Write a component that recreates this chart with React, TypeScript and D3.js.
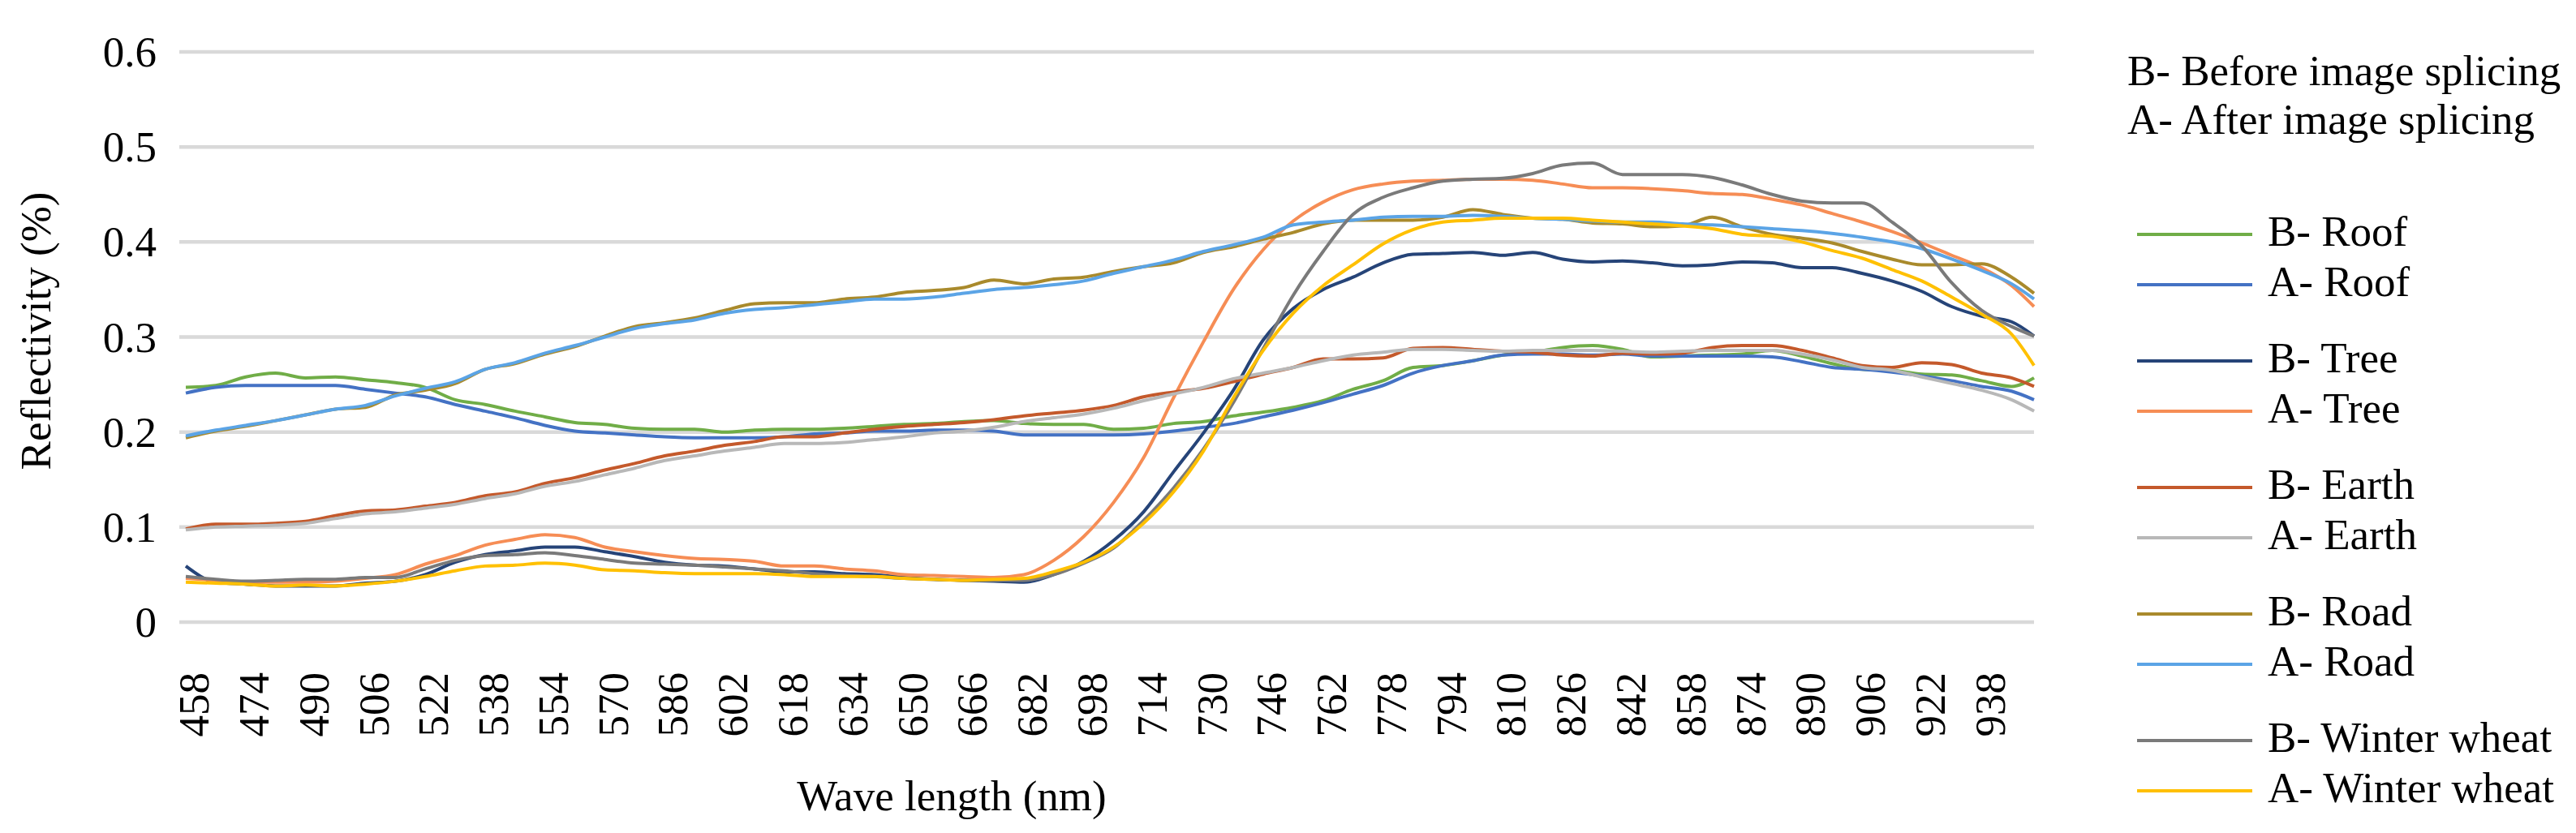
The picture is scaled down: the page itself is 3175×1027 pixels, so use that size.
import React from "react";
import * as d3 from "d3";

// ---------- DATA ----------
const WAVELENGTHS = [
  456, 464, 472, 480, 488, 496, 504, 512, 520, 528, 536, 544, 552, 560, 568, 576, 584, 592, 600, 608, 616,
  624, 632, 640, 648, 656, 664, 672, 680, 688, 696, 704, 712, 720, 728, 736, 744, 752, 760, 768, 776, 784,
  792, 800, 808, 816, 824, 832, 840, 848, 856, 864, 872, 880, 888, 896, 904, 912, 920, 928, 936, 944, 950,
];

const X_TICK_LABELS = [
  458, 474, 490, 506, 522, 538, 554, 570, 586, 602, 618, 634, 650, 666, 682, 698, 714, 730, 746, 762, 778,
  794, 810, 826, 842, 858, 874, 890, 906, 922, 938,
];

const Y_TICKS = [0, 0.1, 0.2, 0.3, 0.4, 0.5, 0.6];

const B_ROOF = [
  0.247, 0.249, 0.258, 0.262, 0.257, 0.258, 0.255, 0.252, 0.247, 0.234, 0.229, 0.222, 0.216, 0.21, 0.208, 0.204, 0.203, 0.203, 0.2, 0.202, 0.203,
  0.203, 0.204, 0.206, 0.208, 0.209, 0.211, 0.212, 0.209, 0.208, 0.208, 0.203, 0.204, 0.209, 0.211, 0.217, 0.221, 0.226, 0.233, 0.245, 0.254, 0.268,
  0.27, 0.275, 0.281, 0.284, 0.289, 0.291, 0.287, 0.279, 0.28, 0.281, 0.282, 0.286, 0.28, 0.272, 0.266, 0.265, 0.261, 0.26, 0.254, 0.248, 0.257,
];
const A_ROOF = [
  0.241, 0.247, 0.249, 0.249, 0.249, 0.249, 0.245, 0.241, 0.237, 0.229, 0.222, 0.215, 0.207, 0.201, 0.199, 0.197, 0.195, 0.194, 0.194, 0.194, 0.195,
  0.198, 0.199, 0.201, 0.201, 0.202, 0.202, 0.201, 0.197, 0.197, 0.197, 0.197, 0.198, 0.201, 0.205, 0.209, 0.216, 0.223, 0.231, 0.24, 0.249, 0.262,
  0.27, 0.275, 0.281, 0.282, 0.282, 0.281, 0.282, 0.28, 0.28, 0.28, 0.28, 0.279, 0.274, 0.268, 0.266, 0.263, 0.259, 0.254, 0.248, 0.243, 0.234,
];
const B_TREE = [
  0.059, 0.042, 0.04, 0.038, 0.038, 0.038, 0.041, 0.043, 0.05, 0.063, 0.071, 0.075, 0.079, 0.079, 0.074, 0.069, 0.063, 0.06, 0.059, 0.056, 0.053,
  0.053, 0.051, 0.05, 0.047, 0.045, 0.044, 0.043, 0.042, 0.05, 0.064, 0.086, 0.116, 0.158, 0.199, 0.244, 0.297, 0.33, 0.35, 0.363, 0.378, 0.387,
  0.388, 0.389, 0.386, 0.389, 0.382, 0.379, 0.38, 0.378, 0.375, 0.376, 0.379, 0.378, 0.373, 0.373, 0.367, 0.359, 0.348, 0.332, 0.322, 0.316, 0.301,
];
const A_TREE = [
  0.046, 0.044, 0.042, 0.042, 0.042, 0.043, 0.046, 0.05, 0.061, 0.07, 0.081, 0.087, 0.092, 0.089, 0.079, 0.074, 0.07, 0.067, 0.066, 0.064, 0.059,
  0.059, 0.056, 0.054, 0.05, 0.049, 0.048, 0.047, 0.05, 0.065, 0.09, 0.126, 0.173, 0.236, 0.295, 0.35, 0.392, 0.422, 0.442, 0.455, 0.461, 0.464,
  0.465, 0.466, 0.466, 0.465, 0.461, 0.457, 0.457, 0.456, 0.454, 0.451, 0.45, 0.445, 0.439, 0.43, 0.421, 0.411, 0.399, 0.386, 0.373, 0.354, 0.332,
];
const B_EARTH = [
  0.098, 0.103, 0.103, 0.104, 0.106, 0.112, 0.117, 0.118, 0.122, 0.126, 0.133, 0.137, 0.146, 0.152, 0.16, 0.167, 0.175, 0.18, 0.186, 0.19, 0.195,
  0.195, 0.199, 0.203, 0.206, 0.208, 0.21, 0.213, 0.217, 0.22, 0.223, 0.228, 0.237, 0.242, 0.246, 0.253, 0.261, 0.268, 0.277, 0.277, 0.278, 0.288,
  0.289, 0.287, 0.285, 0.284, 0.281, 0.28, 0.283, 0.282, 0.283, 0.289, 0.291, 0.291, 0.286, 0.278, 0.27, 0.268, 0.273, 0.271, 0.262, 0.257, 0.248,
];
const A_EARTH = [
  0.097, 0.1, 0.101, 0.102, 0.104, 0.109, 0.114, 0.116, 0.12, 0.124, 0.13, 0.135, 0.143, 0.148, 0.155, 0.162, 0.17, 0.175, 0.18, 0.184, 0.188,
  0.188, 0.189, 0.192, 0.195, 0.199, 0.201, 0.205, 0.211, 0.215, 0.219, 0.225, 0.233, 0.24, 0.247, 0.256, 0.262, 0.268, 0.275, 0.281, 0.284, 0.287,
  0.287, 0.286, 0.285, 0.286, 0.286, 0.286, 0.285, 0.284, 0.285, 0.286, 0.286, 0.286, 0.282, 0.276, 0.268, 0.265, 0.258, 0.251, 0.244, 0.234, 0.222,
];
const B_ROAD = [
  0.194, 0.201, 0.206, 0.212, 0.218, 0.224, 0.226, 0.239, 0.244, 0.251, 0.266, 0.272, 0.282, 0.29, 0.301, 0.311, 0.315, 0.32, 0.328, 0.335, 0.336,
  0.336, 0.34, 0.342, 0.347, 0.349, 0.352, 0.36, 0.356, 0.361, 0.363, 0.369, 0.374, 0.378, 0.389, 0.395, 0.403, 0.41, 0.419, 0.423, 0.423, 0.423,
  0.426, 0.434, 0.429, 0.425, 0.424, 0.42, 0.419, 0.416, 0.417, 0.426, 0.416, 0.408, 0.404, 0.399, 0.39, 0.382, 0.376, 0.376, 0.377, 0.363, 0.346,
];
const A_ROAD = [
  0.196, 0.202, 0.207, 0.212, 0.218, 0.224, 0.228, 0.238, 0.246, 0.253, 0.266, 0.273, 0.283, 0.291, 0.3, 0.309, 0.314, 0.318, 0.325, 0.329, 0.331,
  0.334, 0.337, 0.34, 0.34, 0.342, 0.346, 0.35, 0.352, 0.355, 0.359, 0.367, 0.374, 0.381, 0.39, 0.397, 0.405, 0.418, 0.421, 0.423, 0.426, 0.427,
  0.427, 0.428, 0.427, 0.425, 0.424, 0.422, 0.421, 0.421, 0.419, 0.418, 0.416, 0.414, 0.412, 0.409, 0.405, 0.4, 0.393, 0.382, 0.37, 0.356, 0.34,
];
const B_WHEAT = [
  0.048, 0.045, 0.043, 0.044, 0.045, 0.045, 0.047, 0.047, 0.056, 0.065, 0.07, 0.071, 0.073, 0.07, 0.066, 0.062, 0.061, 0.06, 0.058, 0.056, 0.054,
  0.051, 0.049, 0.048, 0.046, 0.045, 0.044, 0.044, 0.044, 0.05, 0.062, 0.078, 0.107, 0.141, 0.182, 0.231, 0.288, 0.344, 0.39, 0.429, 0.447, 0.457,
  0.464, 0.466, 0.467, 0.472, 0.481, 0.483, 0.471, 0.471, 0.471, 0.468, 0.46, 0.45, 0.443, 0.441, 0.441, 0.421, 0.396, 0.357, 0.328, 0.311, 0.301,
];
const A_WHEAT = [
  0.042, 0.041, 0.04, 0.038, 0.039, 0.038, 0.04, 0.043, 0.048, 0.054, 0.059, 0.06, 0.062, 0.06, 0.055, 0.054, 0.052, 0.051, 0.051, 0.051, 0.05,
  0.048, 0.048, 0.048, 0.046, 0.045, 0.044, 0.045, 0.046, 0.053, 0.063, 0.079, 0.104, 0.137, 0.18, 0.236, 0.286, 0.325, 0.354, 0.376, 0.398, 0.413,
  0.421, 0.423, 0.425, 0.425, 0.425, 0.423, 0.421, 0.419, 0.417, 0.414, 0.408, 0.406, 0.4, 0.391, 0.383, 0.371, 0.359, 0.342, 0.324, 0.303, 0.27,
];

const SERIES_NAMES = [
  "B- Roof", "A- Roof", "B- Tree", "A- Tree", "B- Earth", "A- Earth", "B- Road", "A- Road", "B- Winter wheat", "A- Winter wheat",
];
const SERIES_VALUES = [B_ROOF, A_ROOF, B_TREE, A_TREE, B_EARTH, A_EARTH, B_ROAD, A_ROAD, B_WHEAT, A_WHEAT];

// ---------- STYLE ----------
const COLORS = [
  "#70AD47", "#4472C4", "#264478", "#F68D55", "#C4592B", "#B8B8B8", "#A98A2C", "#5BA4E6", "#7A7A7A", "#FFC000",
];
const FONT = "'Liberation Serif', 'Times New Roman', serif";
const FS = 53;
const W = 3175;
const H = 1027;
const PLOT = { left: 221, right: 2507, top: 64, bottom: 767, inset: 8 };

export default function App() {
  const x = d3.scaleLinear().domain([WAVELENGTHS[0], WAVELENGTHS[WAVELENGTHS.length - 1]]).range([PLOT.left + PLOT.inset, PLOT.right]);
  const y = d3.scaleLinear().domain([0, 0.6]).range([PLOT.bottom, PLOT.top]);

  const line = d3
    .line<number>()
    .x((_, i) => x(WAVELENGTHS[i]))
    .y((d) => y(d))
    .curve(d3.curveMonotoneX);

  const legendX1 = 2634;
  const legendX2 = 2776;
  const legendTextX = 2795;
  const legendY = (k: number) => 289 + k * 62 + Math.floor(k / 2) * 32;

  return (
    <svg
      width={W}
      height={H}
      viewBox={`0 0 ${W} ${H}`}
      style={{ position: "absolute", left: 0, top: 0, background: "#fff" }}
      fontFamily={FONT}
    >
      <rect x={0} y={0} width={W} height={H} fill="#fff" />
      {/* gridlines */}
      {Y_TICKS.map((t) => (
        <line key={"g" + t} x1={PLOT.left} x2={PLOT.right} y1={y(t)} y2={y(t)} stroke="#D9D9D9" strokeWidth={4.5} />
      ))}
      {/* y tick labels */}
      {Y_TICKS.map((t) => (
        <text key={"yl" + t} x={193} y={y(t) + 18} textAnchor="end" fontSize={FS} fill="#000">
          {String(t)}
        </text>
      ))}
      {/* x tick labels */}
      {X_TICK_LABELS.map((w) => {
        const cx = x(w) + 1;
        return (
          <text
            key={"xl" + w}
            transform={`translate(${cx + 18},${829}) rotate(-90)`}
            textAnchor="end"
            fontSize={FS}
            fill="#000"
          >
            {String(w)}
          </text>
        );
      })}
      {/* series */}
      {SERIES_VALUES.map((vals, i) => (
        <path
          key={"s" + i}
          d={line(vals) || ""}
          fill="none"
          stroke={COLORS[i]}
          strokeWidth={4}
          strokeLinejoin="round"
        />
      ))}
      {/* axis titles */}
      <text x={1173} y={999} textAnchor="middle" fontSize={FS} fill="#000">
        Wave length (nm)
      </text>
      <text transform={`translate(62,408) rotate(-90)`} textAnchor="middle" fontSize={FS} fill="#000">
        Reflectivity (%)
      </text>
      {/* legend */}
      <text x={2622} y={105} fontSize={FS} fill="#000">
        B- Before image splicing
      </text>
      <text x={2622} y={165} fontSize={FS} fill="#000">
        A- After image splicing
      </text>
      {SERIES_NAMES.map((name, k) => (
        <g key={"lg" + k}>
          <line x1={legendX1} x2={legendX2} y1={legendY(k)} y2={legendY(k)} stroke={COLORS[k]} strokeWidth={4} />
          <text x={legendTextX} y={legendY(k) + 14} fontSize={FS} fill="#000">
            {name}
          </text>
        </g>
      ))}
    </svg>
  );
}
